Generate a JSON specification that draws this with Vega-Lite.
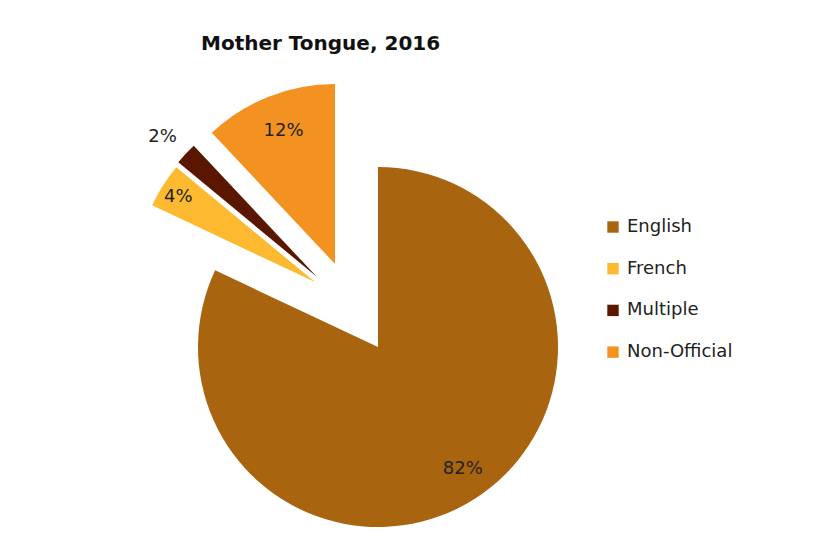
{
  "$schema": "https://vega.github.io/schema/vega-lite/v6.json",
  "width": 360,
  "height": 360,
  "autosize": "none",
  "padding": {"left": 198, "top": 167, "right": 260, "bottom": 9},
  "background": "white",
  "config": {"view": {"stroke": null}},
  "title": {
    "text": "Mother Tongue, 2016",
    "anchor": "start",
    "frame": "group",
    "offset": 23,
    "dx": 3,
    "font": "DejaVu Sans",
    "fontSize": 20,
    "fontWeight": "bold",
    "color": "#111111"
  },
  "data": {
    "values": [
      {"category": "English", "value": 82, "label": "82%"},
      {"category": "French", "value": 4, "label": "4%"},
      {"category": "Multiple", "value": 2, "label": "2%"},
      {"category": "Non-Official", "value": 12, "label": "12%"}
    ]
  },
  "encoding": {
    "theta": {"field": "value", "type": "quantitative", "stack": true, "scale": {"domain": [0, 100]}},
    "order": {"field": "category", "sort": "ascending"},
    "color": {
      "field": "category",
      "type": "nominal",
      "scale": {
        "domain": ["English", "French", "Multiple", "Non-Official"],
        "range": ["#A8640F", "#FDB92F", "#5B1600", "#F39220"]
      },
      "legend": {
        "title": null,
        "orient": "none",
        "legendX": 406,
        "legendY": 51,
        "padding": 0,
        "symbolType": "square",
        "symbolSize": 130,
        "symbolStrokeWidth": 0,
        "labelFont": "DejaVu Sans",
        "labelFontSize": 18,
        "labelColor": "#222222",
        "labelOffset": 5,
        "rowPadding": 23.7
      }
    }
  },
  "layer": [
    {
      "mark": {"type": "arc", "outerRadius": 180},
      "encoding": {"opacity": {"condition": {"test": "datum.category === 'English'", "value": 1}, "value": 0}}
    },
    {
      "mark": {"type": "arc", "outerRadius": 180, "xOffset": -63, "yOffset": -65},
      "encoding": {"opacity": {"condition": {"test": "datum.category === 'French'", "value": 1}, "value": 0}}
    },
    {
      "mark": {"type": "arc", "outerRadius": 180, "xOffset": -61, "yOffset": -70},
      "encoding": {"opacity": {"condition": {"test": "datum.category === 'Multiple'", "value": 1}, "value": 0}}
    },
    {
      "mark": {"type": "arc", "outerRadius": 180, "xOffset": -43, "yOffset": -83},
      "encoding": {"opacity": {"condition": {"test": "datum.category === 'Non-Official'", "value": 1}, "value": 0}}
    },
    {
      "mark": {"type": "text", "radius": 147, "dx": 6, "dy": -2, "font": "DejaVu Sans", "fontSize": 18},
      "encoding": {"text": {"condition": {"test": "datum.category === 'English'", "field": "label"}, "value": ""}, "color": {"value": "#222222"}}
    },
    {
      "mark": {"type": "text", "radius": 162, "xOffset": -63, "yOffset": -65, "dy": 2, "font": "DejaVu Sans", "fontSize": 18},
      "encoding": {"text": {"condition": {"test": "datum.category === 'French'", "field": "label"}, "value": ""}, "color": {"value": "#222222"}}
    },
    {
      "mark": {"type": "text", "radius": 209, "xOffset": -61, "yOffset": -70, "dx": -2, "dy": 3, "font": "DejaVu Sans", "fontSize": 18},
      "encoding": {"text": {"condition": {"test": "datum.category === 'Multiple'", "field": "label"}, "value": ""}, "color": {"value": "#222222"}}
    },
    {
      "mark": {"type": "text", "radius": 145, "xOffset": -43, "yOffset": -83, "dx": 2, "dy": 2, "font": "DejaVu Sans", "fontSize": 18},
      "encoding": {"text": {"condition": {"test": "datum.category === 'Non-Official'", "field": "label"}, "value": ""}, "color": {"value": "#222222"}}
    }
  ]
}
